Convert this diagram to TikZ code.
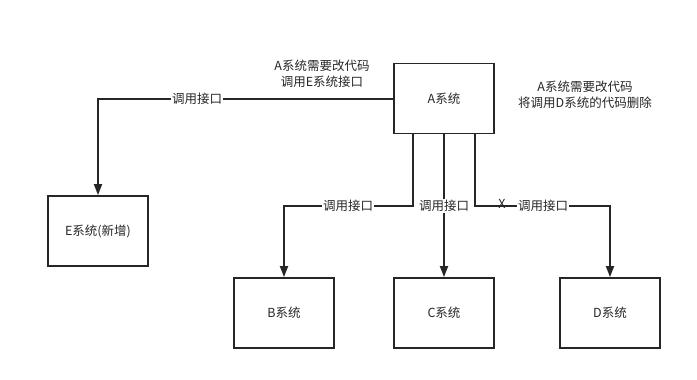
\documentclass[tikz,border=0pt]{standalone}
\usepackage{fontspec}
\setmainfont{Noto Sans CJK SC}
\usetikzlibrary{arrows.meta}
\begin{document}
\begin{tikzpicture}[x=1pt,y=-1pt,
  sysbox/.style={draw=black!85,line width=1.8pt,minimum width=100pt,minimum height=70pt,inner sep=0pt,font=\fontsize{12.5}{14}\selectfont,text=black!85},
  conn/.style={draw=black!85,line width=1.8pt,-{Triangle[length=11pt,width=8pt]}},
  lbl/.style={fill=white,inner sep=1pt,font=\fontsize{12.5}{14}\selectfont,text=black!85},
  note/.style={align=center,font=\fontsize{12.5}{16.5}\selectfont,text=black!85}]
\useasboundingbox (0,0) rectangle (697,380);
\node[sysbox] (A) at (444,98.5) {A系统};
\node[sysbox] (E) at (98,231) {E系统(新增)};
\node[sysbox] (B) at (284,313) {B系统};
\node[sysbox] (C) at (444,313) {C系统};
\node[sysbox] (D) at (610,313) {D系统};
\coordinate (ae) at (98,99);
\coordinate (b1) at (413,206);
\coordinate (b2) at (284,206);
\coordinate (d1) at (475,206);
\coordinate (d2) at (610,206);
\draw[conn] (A.west |- ae) -- (ae) -- (E.north);
\node[lbl] (l1) at (197,99) {调用接口};
\draw[conn] (A.south -| b1) -- (b1) -- (b2) -- (B.north);
\node[lbl] (l2) at (348,206) {调用接口};
\draw[conn] (A.south) -- (C.north);
\node[lbl] (l3) at (444,206) {调用接口};
\draw[conn] (A.south -| d1) -- (d1) -- (d2) -- (D.north);
\node[lbl] (l4) at (543,206) {调用接口};
\node[font=\fontsize{12.5}{14}\selectfont,text=black!85,inner sep=0pt] (x) at (502,204) {X};
\node[note] (n1) at (322,74) {A系统需要改代码\\调用E系统接口};
\node[note] (n2) at (585,95) {A系统需要改代码\\将调用D系统的代码删除};
\end{tikzpicture}
\end{document}
